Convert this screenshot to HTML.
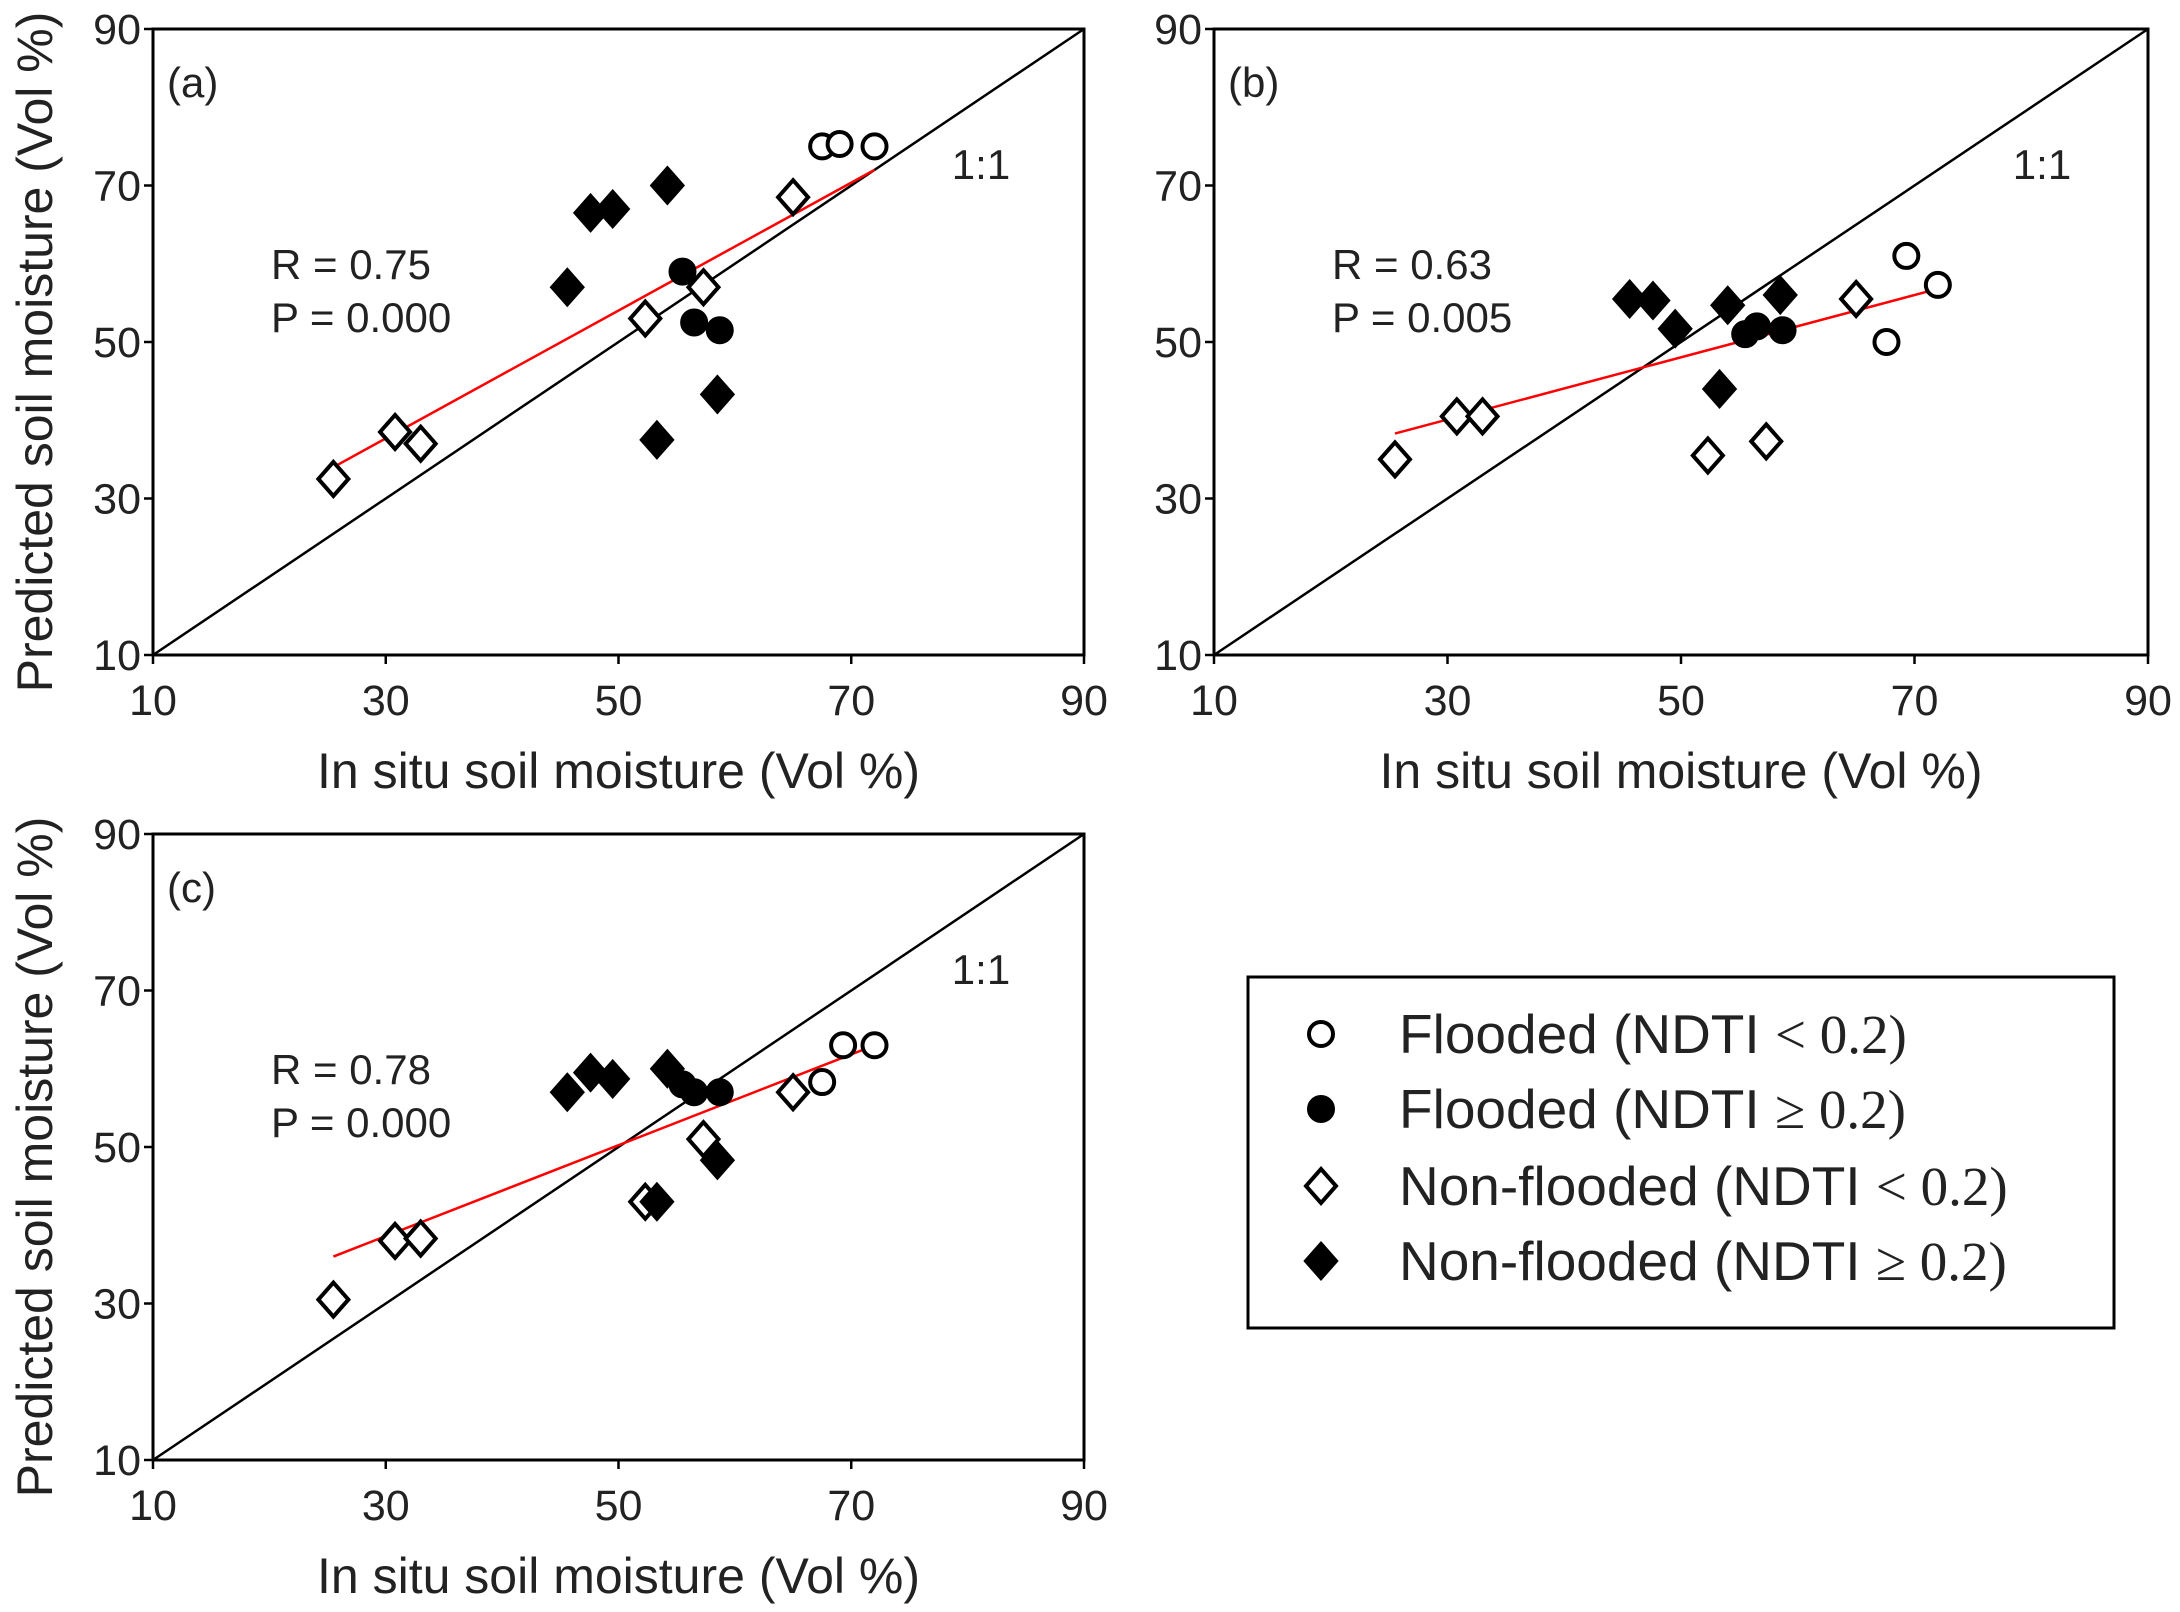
<!DOCTYPE html>
<html><head><meta charset="utf-8"><style>
html,body{margin:0;padding:0;background:#fff;}
svg{display:block;font-family:"Liberation Sans",sans-serif;}
</style></head><body>
<svg id="chart" width="2180" height="1612" viewBox="0 0 2180 1612" xmlns="http://www.w3.org/2000/svg"></svg>
<script>
const ticks = [10, 30, 50, 70, 90];
const panelLabels = ["(a)", "(b)", "(c)"];
const rLabels = ["R = 0.75", "R = 0.63", "R = 0.78"];
const pLabels = ["P = 0.000", "P = 0.005", "P = 0.000"];
// panel a
const aFloodLowX = [67.5, 69, 72];            const aFloodLowY = [75, 75.3, 75];
const aFloodHighX = [55.5, 56.5, 58.7];       const aFloodHighY = [59, 52.5, 51.5];
const aNonLowX = [25.5, 30.8, 33, 52.3, 57.3, 65]; const aNonLowY = [32.5, 38.5, 37, 53, 57, 68.5];
const aNonHighX = [45.6, 47.6, 49.5, 54.2, 53.3, 58.5]; const aNonHighY = [57, 66.5, 67, 70, 37.5, 43.3];
const aFitX = [25.5, 72]; const aFitY = [34, 72];
// panel b
const bFloodLowX = [69.3, 72, 67.6];          const bFloodLowY = [61, 57.3, 50];
const bFloodHighX = [55.5, 56.5, 58.7];       const bFloodHighY = [51, 52, 51.5];
const bNonLowX = [25.5, 30.8, 33, 52.3, 57.3, 65]; const bNonLowY = [35, 40.5, 40.5, 35.5, 37.3, 55.5];
const bNonHighX = [45.6, 47.6, 49.5, 54, 58.5, 53.3]; const bNonHighY = [55.5, 55.3, 51.7, 54.7, 56, 44];
const bFitX = [25.5, 72]; const bFitY = [38.3, 56.8];
// panel c
const cFloodLowX = [69.3, 72, 67.5];          const cFloodLowY = [63, 63, 58.3];
const cFloodHighX = [55.5, 56.5, 58.7];       const cFloodHighY = [58, 57, 57];
const cNonLowX = [25.5, 30.8, 33, 52.3, 57.3, 65]; const cNonLowY = [30.5, 38, 38.3, 43, 51, 57];
const cNonHighX = [45.6, 47.6, 49.5, 54.2, 53.3, 58.5]; const cNonHighY = [57, 59.5, 58.7, 60, 43, 48.3];
const cFitX = [25.5, 72]; const cFitY = [36, 63];

const NS = "http://www.w3.org/2000/svg";
const svg = document.getElementById("chart");
function mk(tag, attrs, parent) {
  const e = document.createElementNS(NS, tag);
  for (const k in attrs) e.setAttribute(k, attrs[k]);
  (parent || svg).appendChild(e);
  return e;
}
const panels = [
  {x0:153,x1:1084,y0:655,y1:29, d:[aFloodLowX,aFloodLowY,aFloodHighX,aFloodHighY,aNonLowX,aNonLowY,aNonHighX,aNonHighY,aFitX,aFitY], ylab:true},
  {x0:1214,x1:2148,y0:655,y1:29, d:[bFloodLowX,bFloodLowY,bFloodHighX,bFloodHighY,bNonLowX,bNonLowY,bNonHighX,bNonHighY,bFitX,bFitY], ylab:false},
  {x0:153,x1:1084,y0:1460,y1:834, d:[cFloodLowX,cFloodLowY,cFloodHighX,cFloodHighY,cNonLowX,cNonLowY,cNonHighX,cNonHighY,cFitX,cFitY], ylab:true}
];
function diamond(g, cx, cy, filled, name) {
  const h = 17, w = 15;
  const p = mk("polygon", {points:`${cx},${cy-h} ${cx+w},${cy} ${cx},${cy+h} ${cx-w},${cy}`, fill: filled?"#000":"#fff", stroke:"#000", "stroke-width":4}, g);
  
  
}
function circle(g, cx, cy, filled, name) {
  const c = mk("circle", {cx:cx, cy:cy, r:12, fill: filled?"#000":"#fff", stroke:"#000", "stroke-width":4}, g);
  
  
}
panels.forEach((p, i) => {
  const sx = v => p.x0 + (v - 10) / 80 * (p.x1 - p.x0);
  const sy = v => p.y0 + (v - 10) / 80 * (p.y1 - p.y0);
  const g = mk("g", {});
  
  
  const frame = mk("rect", {x:p.x0, y:p.y1, width:p.x1-p.x0, height:p.y0-p.y1, fill:"none", stroke:"#000", "stroke-width":3}, g);
  
  
  ticks.forEach(t => {
    mk("line", {x1:sx(t), x2:sx(t), y1:p.y0, y2:p.y0+9, stroke:"#000", "stroke-width":2.5}, g);
    mk("line", {x1:p.x0-9, x2:p.x0, y1:sy(t), y2:sy(t), stroke:"#000", "stroke-width":2.5}, g);
    const xt = mk("text", {x:sx(t), y:p.y0+60, "text-anchor":"middle", "font-size":43, fill:"#222"}, g);
    xt.textContent = t;
    
    
    const yt = mk("text", {x:p.x0-12, y:sy(t)+15, "text-anchor":"end", "font-size":43, fill:"#222"}, g);
    yt.textContent = t;
    
    
  });
  const xtitle = mk("text", {x:(p.x0+p.x1)/2, y:p.y0+133, "text-anchor":"middle", "font-size":50, fill:"#222"}, g);
  xtitle.textContent = "In situ soil moisture (Vol %)";
  
  
  if (p.ylab) {
    const cy = (p.y0+p.y1)/2 + 10;
    const yt = mk("text", {x:0, y:0, transform:`translate(52,${cy}) rotate(-90)`, "text-anchor":"middle", "font-size":50, fill:"#222"}, g);
    yt.textContent = "Predicted soil moisture (Vol %)";
    
    
  }
  const oneLine = mk("line", {x1:sx(10), y1:sy(10), x2:sx(90), y2:sy(90), stroke:"#000", "stroke-width":2.5}, g);
  
  
  const d = p.d;
  const fit = mk("line", {x1:sx(d[8][0]), y1:sy(d[9][0]), x2:sx(d[8][1]), y2:sy(d[9][1]), stroke:"#f00", "stroke-width":2.5}, g);
  
  
  d[0].forEach((v,k)=>circle(g, sx(v), sy(d[1][k]), false, 'flooded-low-point'));
  d[2].forEach((v,k)=>circle(g, sx(v), sy(d[3][k]), true, 'flooded-high-point'));
  d[4].forEach((v,k)=>diamond(g, sx(v), sy(d[5][k]), false, 'nonflooded-low-point'));
  d[6].forEach((v,k)=>diamond(g, sx(v), sy(d[7][k]), true, 'nonflooded-high-point'));
  const pl = mk("text", {x:p.x0+14, y:p.y1+68, "font-size":42, fill:"#222"}, g);
  pl.textContent = panelLabels[i];
  
  
  const r = mk("text", {x:p.x0+118, y:p.y1+250, "font-size":42, fill:"#222"}, g);
  r.textContent = rLabels[i];
  
  
  const pv = mk("text", {x:p.x0+118, y:p.y1+303, "font-size":42, fill:"#222"}, g);
  pv.textContent = pLabels[i];
  
  
  const oo = mk("text", {x:p.x0+828, y:p.y1+150, "font-size":42, fill:"#222", "text-anchor":"middle"}, g);
  oo.textContent = "1:1";
  
  
});
// legend
const lg = mk("g", {});


mk("rect", {x:1248, y:977, width:866, height:351, fill:"#fff", stroke:"#000", "stroke-width":3}, lg);
const legendMain = ["Flooded (NDTI ", "Flooded (NDTI ", "Non-flooded (NDTI ", "Non-flooded (NDTI "];
const legendRel = ["< 0.2)", "≥ 0.2)", "< 0.2)", "≥ 0.2)"];
const legendY = [1034, 1109, 1186, 1261];
legendY.forEach((y, k) => {
  if (k < 2) circle(lg, 1321, y, k === 1, 'legend-marker');
  else diamond(lg, 1321, y, k === 3, 'legend-marker');
  const t = mk("text", {x:1399, y:y+19, "font-size":55, fill:"#222"}, lg);
  
  
  t.appendChild(document.createTextNode(legendMain[k]));
  const s = mk("tspan", {"font-family":"Liberation Serif, serif"}, t);
  s.textContent = legendRel[k];
});
</script>
</body></html>
